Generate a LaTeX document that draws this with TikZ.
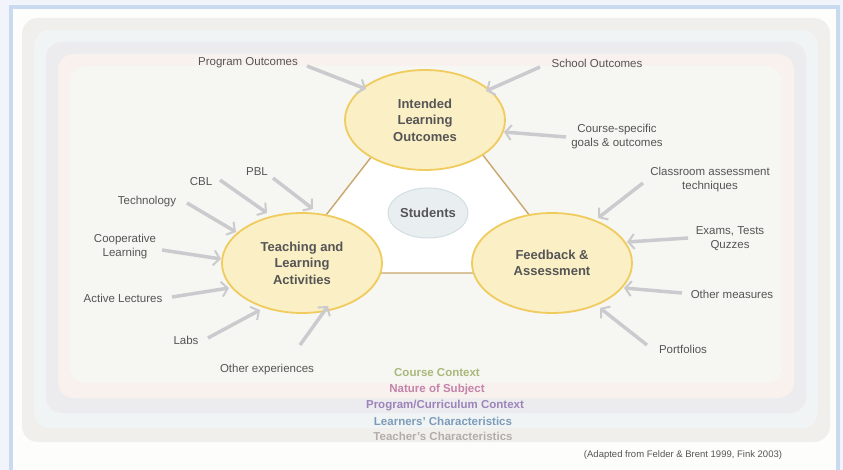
\documentclass[tikz,border=0pt]{standalone}
\usepackage{fontspec}
\setmainfont{Liberation Sans}
\usetikzlibrary{arrows.meta,shapes.geometric}

\definecolor{pagebg}{HTML}{F1F4FB}
\definecolor{framec}{HTML}{C9D9EF}
\definecolor{paper}{HTML}{FDFDFB}
\definecolor{bandTeacher}{HTML}{F1EFEC}
\definecolor{bandLearner}{HTML}{F0F4F5}
\definecolor{bandProgram}{HTML}{ECECEE}
\definecolor{bandNature}{HTML}{F9F1EE}
\definecolor{bandCourse}{HTML}{F6F6F2}
\definecolor{goalfill}{HTML}{FBEFC6}
\definecolor{goaledge}{HTML}{F0CB5E}
\definecolor{triedge}{HTML}{C9A66B}
\definecolor{studfill}{HTML}{E9EFF1}
\definecolor{studedge}{HTML}{D3DDE2}
\definecolor{txt}{HTML}{555555}
\definecolor{arrowc}{HTML}{CBCBCF}
\definecolor{cCourse}{HTML}{A9B97A}
\definecolor{cNature}{HTML}{C383AA}
\definecolor{cProgram}{HTML}{9C83BA}
\definecolor{cLearner}{HTML}{7C9CB9}
\definecolor{cTeacher}{HTML}{B3ADAA}

\tikzset{
  goal/.style={ellipse, draw=goaledge, line width=1.8pt, fill=goalfill,
    minimum width=160pt, minimum height=100pt, inner sep=0pt,
    align=center, text=txt, font=\fontsize{13}{16.5}\selectfont\bfseries},
  stud/.style={ellipse, draw=studedge, line width=1pt, fill=studfill,
    minimum width=80pt, minimum height=50pt, inner sep=0pt,
    text=txt, font=\fontsize{13}{15}\selectfont\bfseries},
  lab/.style={align=center, text=txt, inner sep=0pt,
    font=\fontsize{11.5}{14}\selectfont},
  ctx/.style={inner sep=0pt, font=\fontsize{11.5}{14}\selectfont\bfseries},
  feed/.style={draw=arrowc, line width=3.5pt,
    -{Straight Barb[length=6pt,width=15pt,line width=2pt]}},
  band/.style={rounded corners=16pt}
}

\begin{document}
\begin{tikzpicture}[x=1pt,y=-1pt]
\useasboundingbox (0,0) rectangle (843,470);
\fill[pagebg] (0,0) rectangle (843,470);
\fill[paper] (11,7) rectangle (838,470);
\draw[framec, line width=4pt] (11,470) -- (11,7) -- (838,7) -- (838,470);

% nested context bands, outermost first
\fill[bandTeacher, band] (22,18) rectangle (830,442);
\fill[bandLearner, band] (34,30) rectangle (818,428);
\fill[bandProgram, band] (46,42) rectangle (806,413);
\fill[bandNature, band]  (58,54) rectangle (794,398);
\fill[bandCourse, band]  (70,66) rectangle (782,383);

% central triangle linking the three components
\filldraw[fill=white, draw=triedge, line width=1.4pt]
  (428,84) -- (281,273) -- (574,273) -- cycle;

\node[stud] (stu) at (428,213) {Students};
\node[goal] (ilo) at (425,120) {Intended\\Learning\\Outcomes};
\node[goal] (tla) at (302,263) {Teaching and\\Learning\\Activities};
\node[goal] (fba) at (552,263) {Feedback \&\\Assessment};

% inputs to the intended learning outcomes
\node[lab] (po) at (248,63) {Program Outcomes};
\node[lab] (so) at (597,63) {School Outcomes};
\node[lab] (cs) at (617,137) {Course-specific\\goals \& outcomes};
\coordinate (poT) at (307,66);  \coordinate (poH) at (366,89);
\coordinate (soT) at (540,67);  \coordinate (soH) at (486,91);
\coordinate (csT) at (566,137); \coordinate (csH) at (504,132);
\draw[feed] (poT) -- (poH);
\draw[feed] (soT) -- (soH);
\draw[feed] (csT) -- (csH);

% teaching and learning activities
\node[lab] (pbl) at (257,172) {PBL};
\node[lab] (cbl) at (201,182) {CBL};
\node[lab] (tec) at (147,202) {Technology};
\node[lab] (coop) at (125,247) {Cooperative\\Learning};
\node[lab] (act) at (123,298) {Active Lectures};
\node[lab] (labs) at (186,340) {Labs};
\node[lab] (oth) at (267,370) {Other experiences};
\coordinate (pblT) at (273,178); \coordinate (pblH) at (313,209);
\coordinate (cblT) at (220,180); \coordinate (cblH) at (267,213);
\coordinate (tecT) at (187,203); \coordinate (tecH) at (236,232);
\coordinate (coopT) at (162,250); \coordinate (coopH) at (221,259);
\coordinate (actT) at (172,297); \coordinate (actH) at (229,288);
\coordinate (labsT) at (208,338); \coordinate (labsH) at (260,310);
\coordinate (othT) at (300,345); \coordinate (othH) at (328,306);
\draw[feed] (pblT) -- (pblH);
\draw[feed] (cblT) -- (cblH);
\draw[feed] (tecT) -- (tecH);
\draw[feed] (coopT) -- (coopH);
\draw[feed] (actT) -- (actH);
\draw[feed] (labsT) -- (labsH);
\draw[feed] (othT) -- (othH);

% feedback and assessment
\node[lab] (cat) at (710,180) {Classroom assessment\\techniques};
\node[lab] (ex) at (730,239) {Exams, Tests\\Quzzes};
\node[lab] (om) at (732,294) {Other measures};
\node[lab] (pf) at (683,349) {Portfolios};
\coordinate (catT) at (643,183); \coordinate (catH) at (598,218);
\coordinate (exT) at (688,238);  \coordinate (exH) at (627,242);
\coordinate (omT) at (682,293);  \coordinate (omH) at (624,288);
\coordinate (pfT) at (647,345);  \coordinate (pfH) at (600,308);
\draw[feed] (catT) -- (catH);
\draw[feed] (exT) -- (exH);
\draw[feed] (omT) -- (omH);
\draw[feed] (pfT) -- (pfH);

% band captions
\node[ctx, text=cCourse]  (lc) at (437,373) {Course Context};
\node[ctx, text=cNature]  (ln) at (437,390) {Nature of Subject};
\node[ctx, text=cProgram] (lp) at (445,406) {Program/Curriculum Context};
\node[ctx, text=cLearner] (ll) at (443,421) {Learners' Characteristics};
\node[ctx, text=cTeacher] (lt) at (443,436) {Teacher's Characteristics};

\node[inner sep=0pt, text=txt, font=\fontsize{9.5}{11}\selectfont] (src) at (683,455)
  {(Adapted from Felder \& Brent 1999, Fink 2003)};
\end{tikzpicture}
\end{document}
